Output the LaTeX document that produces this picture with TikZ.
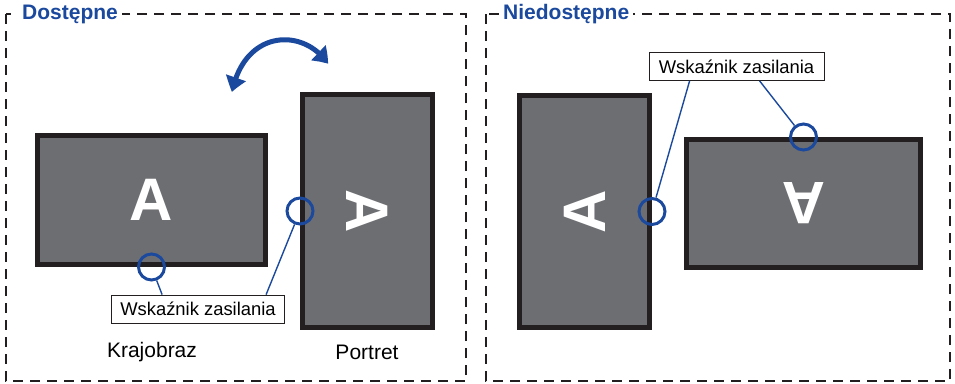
\documentclass[tikz,border=0pt]{standalone}
\usepackage{fontspec}
\setmainfont{Liberation Sans}
\usetikzlibrary{arrows.meta,bending,positioning}
\definecolor{ledblue}{RGB}{27,73,157}
\definecolor{panelgray}{RGB}{109,110,114}
\definecolor{bezel}{RGB}{35,31,32}
\tikzset{
  screen/.style={rectangle, draw=bezel, fill=panelgray, line width=5pt, inner sep=0pt},
  letter/.style={text=white, font=\bfseries\fontsize{60}{60}\selectfont, inner sep=0pt},
  indicator/.style={circle, draw=ledblue, line width=3pt, minimum size=26pt, inner sep=0pt},
  callout/.style={rectangle, draw=bezel, fill=white, line width=0.8pt, minimum width=173pt, minimum height=28pt, inner sep=0pt, font=\fontsize{18.4}{20}\selectfont},
  leader/.style={ledblue, line width=1.4pt},
  caption/.style={font=\fontsize{21}{24}\selectfont, inner sep=0pt},
  panelframe/.style={draw=bezel, line width=2pt, dash pattern=on 10pt off 7pt},
  paneltitle/.style={fill=white, text=ledblue, font=\bfseries\fontsize{21}{24}\selectfont, inner xsep=4pt, inner ysep=2pt, anchor=west}
}
\begin{document}
\begin{tikzpicture}[x=1pt,y=-1pt]
    \useasboundingbox (0,0) rectangle (955,383);

    % frames
    \draw[panelframe] (6,14) rectangle (466,381);
    \draw[panelframe] (486,14) rectangle (950,381);
    \node(ttlok) [paneltitle] at (18,14) {Dostępne};
    \node(ttlno) [paneltitle] at (499,14) {Niedostępne};

    % allowed: landscape and portrait
    \node(scrland) [screen, minimum width=228, minimum height=129] at (151.5,200) {};
    \node [letter] at (scrland) {A};
    \node(scrport) [screen, minimum width=130, minimum height=233] at (367.5,211) {};
    \node [letter, rotate=-90] at (scrport) {A};

    \node(ledland) [indicator] at (scrland.south) {};
    \node(ledport) [indicator] at (scrport.west) {};

    \node(lblok) [callout] at (198,309) {Wskaźnik zasilania};
    \draw[leader] ([xshift=51pt]lblok.north west) -- (ledland);
    \draw[leader] ([xshift=155pt]lblok.north west) -- (ledport);

    \node(capland) [caption] at (152,352) {Krajobraz};
    \node(capport) [caption] at (367,352) {Portret};

    % rotation arrow
    \coordinate(rotA) at (232,92);
    \coordinate(rotB) at (328,64);
    \draw[ledblue, line width=5pt, {Triangle[length=15pt,width=20pt,bend]}-{Triangle[length=15pt,width=20pt,bend]}]
        (rotA) .. controls (245,28) and (305,28) .. (rotB);

    % not allowed: turned the other way
    \node(scrportbad) [screen, minimum width=130, minimum height=232] at (584.5,211.5) {};
    \node [letter, rotate=90] at (scrportbad) {A};
    \node(scrlandbad) [screen, minimum width=234, minimum height=128] at (803.5,203.5) {};
    \node [letter, rotate=180] at (scrlandbad) {A};

    \node(ledportbad) [indicator] at (scrportbad.east) {};
    \node(ledlandbad) [indicator] at (scrlandbad.north) {};

    \node(lblno) [callout, minimum width=175] at (736.5,66.5) {Wskaźnik zasilania};
    \draw[leader] ([xshift=41pt]lblno.south west) -- (ledportbad);
    \draw[leader] ([xshift=111pt]lblno.south west) -- (ledlandbad);
\end{tikzpicture}
\end{document}
